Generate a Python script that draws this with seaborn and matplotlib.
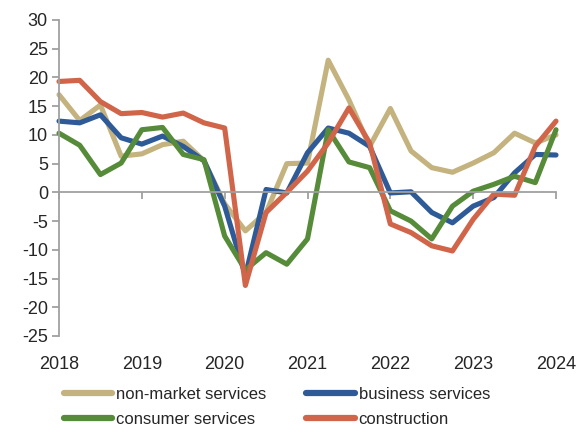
import numpy as np
import pandas as pd
import matplotlib
matplotlib.use("Agg")
import matplotlib.pyplot as plt
import seaborn as sns
from matplotlib.lines import Line2D
from matplotlib import font_manager

quarters = [2018 + 0.25 * i for i in range(25)]
non_market = [17.0, 12.5, 15.2, 6.3, 6.7, 8.3, 8.9, 5.5, -2.0, -6.7, -3.5, 5.0, 5.1,
              23.0, 16.1, 8.0, 14.6, 7.2, 4.3, 3.5, 5.1, 6.9, 10.3, 8.6, 10.0]
business = [12.4, 12.1, 13.5, 9.5, 8.4, 9.8, 8.0, 5.5, -2.4, -14.5, 0.5, -0.1, 6.9,
            11.2, 10.3, 8.0, -0.1, 0.1, -3.5, -5.3, -2.4, -0.9, 3.4, 6.6, 6.5]
consumer = [10.3, 8.2, 3.1, 5.1, 10.9, 11.3, 6.6, 5.7, -7.6, -13.5, -10.5, -12.5, -8.1,
            10.9, 5.3, 4.3, -3.2, -5.0, -8.1, -2.4, 0.2, 1.4, 2.8, 1.7, 10.9]
construction = [19.3, 19.5, 15.8, 13.7, 13.9, 13.1, 13.8, 12.1, 11.2, -16.2, -3.5, 0.0, 3.7,
                8.6, 14.7, 8.6, -5.5, -7.0, -9.3, -10.2, -4.7, -0.3, -0.5, 8.0, 12.4]

series_names = ["non-market services", "business services", "consumer services", "construction"]
series_vals = [non_market, business, consumer, construction]
colors = ["#C4B37E", "#2E5A97", "#568B3A", "#D0654A"]
year_ticks = [2018, 2019, 2020, 2021, 2022, 2023, 2024]
y_ticks = list(range(-25, 31, 5))

df = pd.concat([pd.DataFrame({"t": quarters, "v": v, "s": n})
                for n, v in zip(series_names, series_vals)], ignore_index=True)

sns.set_style("white")
names = {f.name for f in font_manager.fontManager.ttflist}
narrow = "Liberation Sans Narrow" in names
if narrow:
    plt.rcParams["font.family"] = ["Liberation Sans Narrow", "DejaVu Sans"]
    tick_fs, leg_fs, colsp = 14.5, 14.5, 3.0
else:
    plt.rcParams["font.family"] = ["Liberation Sans", "DejaVu Sans"]
    tick_fs, leg_fs, colsp = 13, 12, 2.4
plt.rcParams["axes.unicode_minus"] = False

fig = plt.figure(figsize=(5.8, 4.28), dpi=100)
ax = fig.add_axes([59 / 580, 1 - 336 / 428, (556 - 59) / 580, (336 - 20) / 428])

sns.lineplot(data=df, x="t", y="v", hue="s", hue_order=series_names,
             palette=colors, linewidth=3.7, ax=ax, legend=False, sort=False,
             solid_capstyle="round", solid_joinstyle="round")
for ln in ax.get_lines():
    ln.set_clip_on(False)

ax.set_xlim(2018, 2024)
ax.set_ylim(-25, 30)
ax.set_xlabel("")
ax.set_ylabel("")

spine_col = "#A0A0A0"
for s in ["top", "right"]:
    ax.spines[s].set_visible(False)
ax.spines["left"].set_color(spine_col)
ax.spines["left"].set_linewidth(1.3)
ax.spines["bottom"].set_position(("data", 0))
ax.spines["bottom"].set_color(spine_col)
ax.spines["bottom"].set_linewidth(1.3)

ax.set_yticks(y_ticks)
ax.tick_params(axis="y", direction="out", length=5, width=1.3, color=spine_col,
               labelsize=tick_fs, pad=3, left=True)
ax.set_xticks(year_ticks)
ax.tick_params(axis="x", direction="out", length=5, width=1.3, color=spine_col,
               labelbottom=False, bottom=True)

sec = ax.secondary_xaxis(0)
sec.set_xticks(year_ticks)
sec.set_xticklabels([str(y) for y in year_ticks])
sec.tick_params(axis="x", length=0, labelsize=tick_fs, pad=14.5)
sec.spines["bottom"].set_visible(False)

handles = [Line2D([0], [0], color=c, lw=4.5, solid_capstyle="round") for c in colors]
order = [0, 2, 1, 3]
leg = fig.legend([handles[i] for i in order], [series_names[i] for i in order],
                 ncol=2, loc="lower left", bbox_to_anchor=(54 / 580, -0.020),
                 frameon=False, fontsize=leg_fs, handlelength=34.6 / leg_fs,
                 handletextpad=0.25, columnspacing=colsp, labelspacing=0.6,
                 borderaxespad=0.2)

fig.savefig("out.png", dpi=100)
